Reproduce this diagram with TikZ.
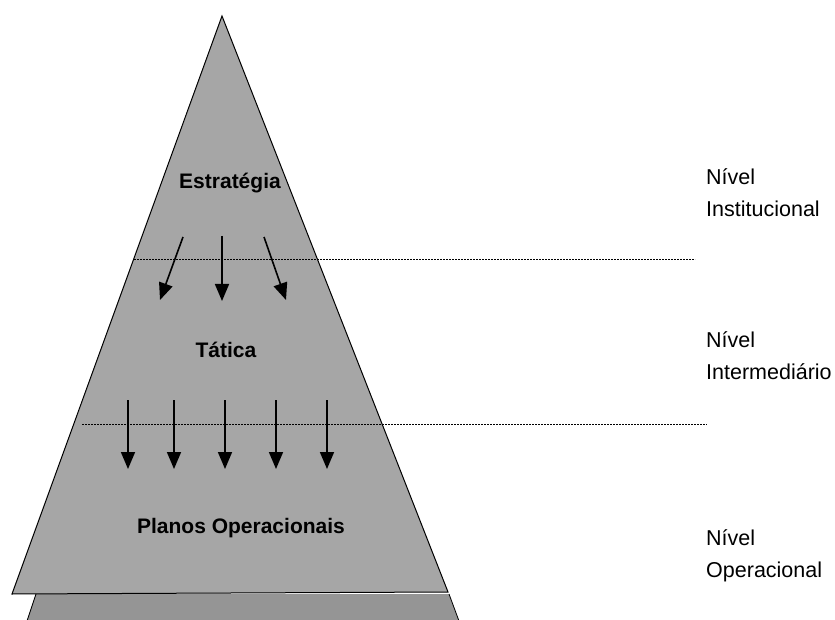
\documentclass[tikz,border=0pt]{standalone}
\usepackage{fontspec}
\setmainfont{Liberation Sans}
\usetikzlibrary{arrows.meta}
\definecolor{pyrfill}{HTML}{A6A6A6}
\definecolor{basefill}{HTML}{959595}
\begin{document}
\begin{tikzpicture}[x=1pt,y=-1pt,
  arr/.style={line width=1.6pt,-{Triangle[length=17pt,width=14pt]}},
  dline/.style={line width=0.6pt,dash pattern=on 2pt off 1pt},
  lvl/.style={font=\fontsize{21.5}{32}\selectfont,align=left,anchor=west,inner sep=0pt},
  inlbl/.style={font=\fontsize{21}{24}\selectfont\bfseries,inner sep=0pt}]
\useasboundingbox (0,0) rectangle (835,620);
% base layer
\fill[basefill] (36,594) -- (27,621) -- (459,621) -- (449,594) -- cycle;
\draw[line width=0.8pt] (36,594) -- (27,621);
\draw[line width=0.8pt] (449,594) -- (459,621);
% main pyramid
\coordinate (apex) at (222,16);
\coordinate (bl) at (12,594);
\coordinate (br) at (448,592);
\filldraw[fill=pyrfill,line width=1pt] (apex) -- (bl) -- (br) -- cycle;
% dashed lines
\coordinate (d1a) at (134,259);
\coordinate (d1b) at (695,259);
\coordinate (d2a) at (82,424);
\coordinate (d2b) at (707,424);
\draw[dline] (d1a) -- (d1b);
\draw[dline] (d2a) -- (d2b);
% labels inside
\node[inlbl] (est) at (230,183) {Estratégia};
\node[inlbl] (tat) at (226,350) {Tática};
\node[inlbl] (plan) at (241,528) {Planos Operacionais};
% arrows top
\coordinate (a1s) at (183,237); \coordinate (a1e) at (160,300);
\coordinate (a2s) at (222,236); \coordinate (a2e) at (222,301);
\coordinate (a3s) at (264,237); \coordinate (a3e) at (286,300);
\draw[arr] (a1s) -- (a1e);
\draw[arr] (a2s) -- (a2e);
\draw[arr] (a3s) -- (a3e);
% arrows bottom
\foreach \x [count=\i] in {128,174,225,276,327}{
  \coordinate (b\i s) at (\x,400);
  \coordinate (b\i e) at (\x,469);
  \draw[arr] (b\i s) -- (b\i e);
}
% level labels
\node[lvl] (n1) at (706,193) {Nível\\Institucional};
\node[lvl] (n2) at (706,356) {Nível\\Intermediário};
\node[lvl] (n3) at (706,556) {Nível\\Operacional};
\end{tikzpicture}
\end{document}
